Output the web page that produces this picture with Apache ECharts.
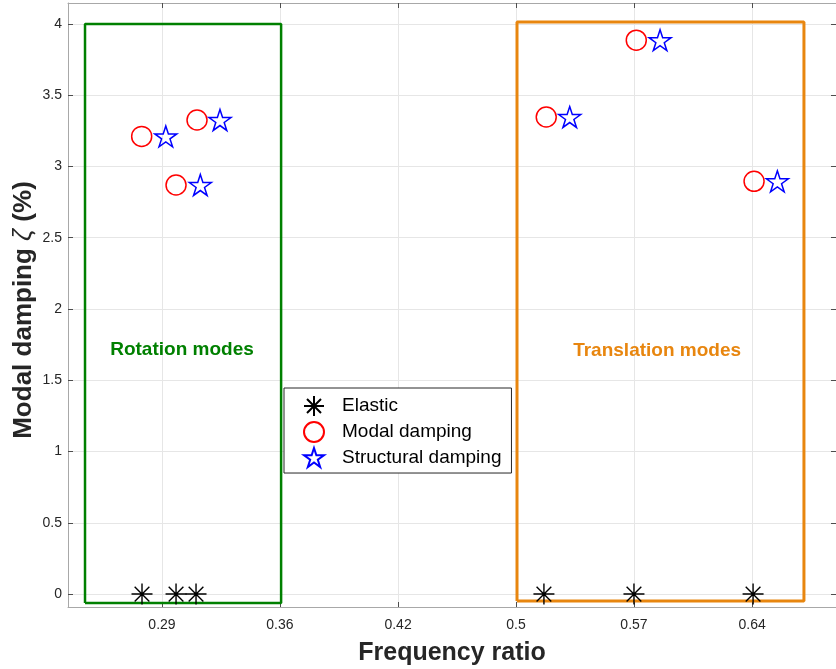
<!DOCTYPE html>
<html>
<head>
<meta charset="utf-8">
<script src="https://cdn.jsdelivr.net/npm/echarts@6/dist/echarts.min.js"></script>
<style>html,body{margin:0;padding:0;background:#fff}#c{width:836px;height:669px}</style>
</head>
<body>
<div id="c"></div>
<script>
// ---- data ----
var elasticX = [0.2736, 0.2942, 0.3063, 0.5169, 0.5714, 0.6435];
var elasticY = [0, 0, 0, 0, 0, 0];
var modalX = [0.2734, 0.2942, 0.3069, 0.5183, 0.5728, 0.6441];
var modalY = [3.211, 2.870, 3.326, 3.347, 3.886, 2.896];
var structX = [0.2880, 0.3089, 0.3208, 0.5325, 0.5872, 0.6582];
var structY = [3.211, 2.870, 3.326, 3.347, 3.886, 2.896];
var rotBoxX = [0.2391, 0.3578];
var rotBoxY = [-0.063, 4.0];
var transBoxX = [0.5006, 0.6743];
var transBoxY = [-0.049, 4.014];
var annoNames = ['Rotation modes', 'Translation modes'];
var annoColors = ['#008000', '#e8860f'];
var annoX = [0.2978, 0.5854];
var annoY = [1.712, 1.705];
var xTickValues = [0.2857, 0.3571, 0.4286, 0.5, 0.5714, 0.6429];
var xTickLabels = ['0.29', '0.36', '0.42', '0.5', '0.57', '0.64'];
var yTickValues = [0, 0.5, 1, 1.5, 2, 2.5, 3, 3.5, 4];
var yTickLabels = ['0', '0.5', '1', '1.5', '2', '2.5', '3', '3.5', '4'];
var xRange = [0.2288, 0.6937];
var yRange = [-0.091, 4.147];
var legendNames = ['Elastic', 'Modal damping', 'Structural damping'];

// ---- helpers ----
function zip(a, b) { return a.map(function (v, i) { return [v, b[i]]; }); }
function box(xs, ys) {
  return [[xs[0], ys[0]], [xs[0], ys[1]], [xs[1], ys[1]], [xs[1], ys[0]], [xs[0], ys[0]]];
}
function lookup(vals, labels) {
  return function (v) {
    for (var i = 0; i < vals.length; i++) if (Math.abs(v - vals[i]) < 1e-6) return labels[i];
    return '';
  };
}
var FONT = 'Arial, "Liberation Sans", sans-serif';
var asteriskPath = 'path://M-10,0L10,0M0,-10L0,10M-7,-7L7,7M-7,7L7,-7';
var starPath = 'path://M0,-10L2.245,-3.09L9.51,-3.09L3.633,1.18L5.88,8.09L0,3.82L-5.88,8.09L-3.633,1.18L-9.51,-3.09L-2.245,-3.09Z';
var axisGray = '#a8a8a8';
var tickDark = '#4d4d4d';

var chart = echarts.init(document.getElementById('c'), null, { renderer: 'canvas' });
chart.setOption({
  animation: false,
  backgroundColor: '#fff',
  textStyle: { fontFamily: FONT },
  grid: { left: 68, right: 0, top: 3, bottom: 62, containLabel: false, outerBoundsMode: 'none' },
  legend: {
    data: legendNames,
    orient: 'vertical',
    left: 284, top: 388,
    itemWidth: 20, itemHeight: 20, itemGap: 4,
    padding: [7, 10, 5, 19],
    backgroundColor: '#fff',
    borderColor: '#262626', borderWidth: 1,
    textStyle: { fontFamily: FONT, fontSize: 19, lineHeight: 20, color: '#000', padding: [0, 0, 0, 13] }
  },
  xAxis: [{
    type: 'value', min: xRange[0], max: xRange[1], position: 'bottom',
    name: 'Frequency ratio', nameLocation: 'middle', nameGap: 34, nameMoveOverlap: false,
    nameTextStyle: { fontFamily: FONT, fontSize: 25, fontWeight: 'bold', color: '#262626' },
    axisLine: { show: true, onZero: false, lineStyle: { color: axisGray, width: 1 } },
    axisTick: { show: true, inside: true, length: 5, customValues: xTickValues, lineStyle: { color: tickDark } },
    axisLabel: {
      customValues: xTickValues, margin: 11, fontSize: 14, color: '#262626', fontFamily: FONT,
      formatter: lookup(xTickValues, xTickLabels)
    },
    splitLine: { show: true, lineStyle: { color: '#e6e6e6', width: 1 } }
  }, {
    type: 'value', min: xRange[0], max: xRange[1], position: 'top',
    axisLine: { show: true, onZero: false, lineStyle: { color: axisGray, width: 1 } },
    axisTick: { show: true, inside: true, length: 5, customValues: xTickValues, lineStyle: { color: tickDark } },
    axisLabel: { show: false },
    splitLine: { show: false }
  }],
  yAxis: [{
    type: 'value', min: yRange[0], max: yRange[1], position: 'left',
    name: 'Modal damping {i|ζ} (%)', nameLocation: 'middle', nameGap: 31, nameRotate: 90, nameMoveOverlap: false,
    nameTextStyle: {
      fontFamily: FONT, fontSize: 26, fontWeight: 'bold', color: '#262626', padding: [0, 10, 0, 0],
      rich: { i: { fontFamily: FONT, fontSize: 26, fontStyle: 'italic', fontWeight: 'normal', color: '#262626' } }
    },
    axisLine: { show: true, onZero: false, lineStyle: { color: axisGray, width: 1 } },
    axisTick: { show: true, inside: true, length: 5, customValues: yTickValues, lineStyle: { color: tickDark } },
    axisLabel: {
      customValues: yTickValues, margin: 6, fontSize: 14, color: '#262626', fontFamily: FONT,
      formatter: lookup(yTickValues, yTickLabels)
    },
    splitLine: { show: true, lineStyle: { color: '#e6e6e6', width: 1 } }
  }, {
    type: 'value', min: yRange[0], max: yRange[1], position: 'right',
    axisLine: { show: true, onZero: false, lineStyle: { color: axisGray, width: 1 } },
    axisTick: { show: true, inside: true, length: 5, customValues: yTickValues, lineStyle: { color: tickDark } },
    axisLabel: { show: false },
    splitLine: { show: false }
  }],
  series: [
    {
      name: 'rotBox', type: 'line', data: box(rotBoxX, rotBoxY), symbol: 'none', silent: true, z: 2,
      lineStyle: { color: '#008000', width: 2.5 }
    },
    {
      name: 'transBox', type: 'line', data: box(transBoxX, transBoxY), symbol: 'none', silent: true, z: 2,
      lineStyle: { color: '#e8860f', width: 3 }
    },
    {
      name: 'annotations', type: 'scatter', silent: true, z: 3,
      data: zip(annoX, annoY).map(function (p, i) {
        return { value: p, name: annoNames[i], label: { color: annoColors[i] } };
      }),
      symbolSize: 1,
      label: {
        show: true, position: 'inside', fontFamily: FONT, fontSize: 19, fontWeight: 'bold',
        textBorderWidth: 0, textBorderColor: 'transparent', opacity: 1,
        formatter: function (p) { return p.name; }
      },
      itemStyle: { color: 'rgba(0,0,0,0)', opacity: 1 }
    },
    {
      name: 'Elastic', type: 'scatter', data: zip(elasticX, elasticY), z: 5,
      symbol: asteriskPath, symbolSize: 21, symbolKeepAspect: true,
      itemStyle: { color: '#000', borderColor: '#000', borderWidth: 1.4, opacity: 1 }
    },
    {
      name: 'Modal damping', type: 'scatter', data: zip(modalX, modalY), z: 5,
      symbol: 'circle', symbolSize: 20,
      itemStyle: { color: 'rgba(255,255,255,0)', borderColor: '#ff0000', borderWidth: 1.5, opacity: 1 }
    },
    {
      name: 'Structural damping', type: 'scatter', data: zip(structX, structY), z: 5,
      symbol: starPath, symbolSize: 22, symbolKeepAspect: true,
      itemStyle: { color: 'rgba(255,255,255,0)', borderColor: '#0000ff', borderWidth: 1.5, opacity: 1 }
    }
  ]
});
</script>
</body>
</html>
